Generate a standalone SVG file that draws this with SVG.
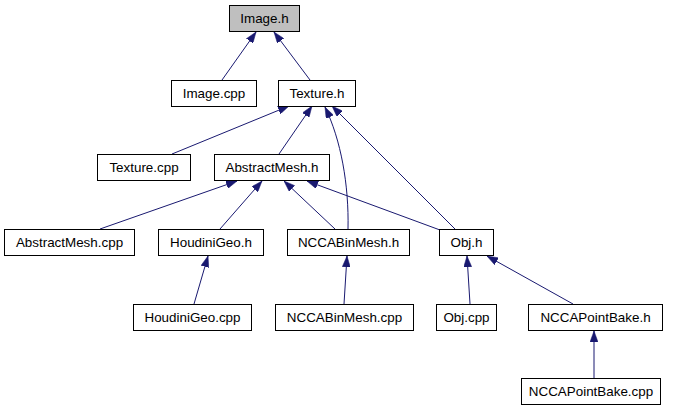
<svg xmlns="http://www.w3.org/2000/svg" width="673" height="411" viewBox="0 0 673 411">
<style>
.n rect{fill:#ffffff;stroke:#000000;stroke-width:1}
.n.root rect{fill:#bfbfbf}
.n text{font-family:"Liberation Sans",Arial,sans-serif;font-size:13.4px;fill:#000000;text-anchor:middle}
.e path{fill:none;stroke:#191970;stroke-width:1;marker-end:url(#ah)}
</style>
<defs>
<marker id="ah" markerUnits="userSpaceOnUse" viewBox="0 0 11 8" refX="11" refY="4" markerWidth="11" markerHeight="8" orient="auto">
<path d="M0,0 L11,4 L0,8 Z" fill="#191970" stroke="#191970" stroke-width="0.5"/>
</marker>
</defs>
<rect width="673" height="411" fill="#ffffff"/>
<g id="edges" class="e">
<path d="M222,80 L256,32"/>
<path d="M310,80 L274,32"/>
<path d="M172,154 L289,106"/>
<path d="M279,154 L312,106"/>
<path d="M348,229 C349,185 341,140 325,107"/>
<path d="M455,229 L332,106"/>
<path d="M100,229 L237,181"/>
<path d="M220,229 L262,181"/>
<path d="M335,229 L284,181"/>
<path d="M440,230 L307,181"/>
<path d="M194,304 L208,256"/>
<path d="M344,304 L347,256"/>
<path d="M470,304 L467,256"/>
<path d="M573,304 L487,256"/>
<path d="M594,378 L594,331"/>
</g>
<g id="image_h" class="n root"><rect x="229.5" y="5.5" width="70" height="26"/><text x="264.5" y="23">Image.h</text></g>
<g id="image_cpp" class="n"><rect x="171.5" y="80.5" width="85" height="26"/><text x="214" y="98">Image.cpp</text></g>
<g id="texture_h" class="n"><rect x="278.5" y="80.5" width="77" height="26"/><text x="317" y="98">Texture.h</text></g>
<g id="texture_cpp" class="n"><rect x="97.5" y="154.5" width="93" height="26"/><text x="144" y="172">Texture.cpp</text></g>
<g id="abstractmesh_h" class="n"><rect x="214.5" y="154.5" width="115" height="26"/><text x="272" y="172">AbstractMesh.h</text></g>
<g id="abstractmesh_cpp" class="n"><rect x="4.5" y="229.5" width="130" height="26"/><text x="69.5" y="247">AbstractMesh.cpp</text></g>
<g id="houdinigeo_h" class="n"><rect x="158.5" y="229.5" width="105" height="26"/><text x="211" y="247">HoudiniGeo.h</text></g>
<g id="nccabinmesh_h" class="n"><rect x="287.5" y="229.5" width="122" height="26"/><text x="348.5" y="247">NCCABinMesh.h</text></g>
<g id="obj_h" class="n"><rect x="439.5" y="229.5" width="54" height="26"/><text x="466.5" y="247">Obj.h</text></g>
<g id="houdinigeo_cpp" class="n"><rect x="133.5" y="304.5" width="118" height="26"/><text x="192.5" y="322">HoudiniGeo.cpp</text></g>
<g id="nccabinmesh_cpp" class="n"><rect x="275.5" y="304.5" width="138" height="26"/><text x="344.5" y="322">NCCABinMesh.cpp</text></g>
<g id="obj_cpp" class="n"><rect x="436.5" y="304.5" width="60" height="26"/><text x="466.5" y="322">Obj.cpp</text></g>
<g id="nccapointbake_h" class="n"><rect x="528.5" y="304.5" width="134" height="26"/><text x="595.5" y="322">NCCAPointBake.h</text></g>
<g id="nccapointbake_cpp" class="n"><rect x="521.5" y="378.5" width="139" height="26"/><text x="591" y="396">NCCAPointBake.cpp</text></g>
</svg>
